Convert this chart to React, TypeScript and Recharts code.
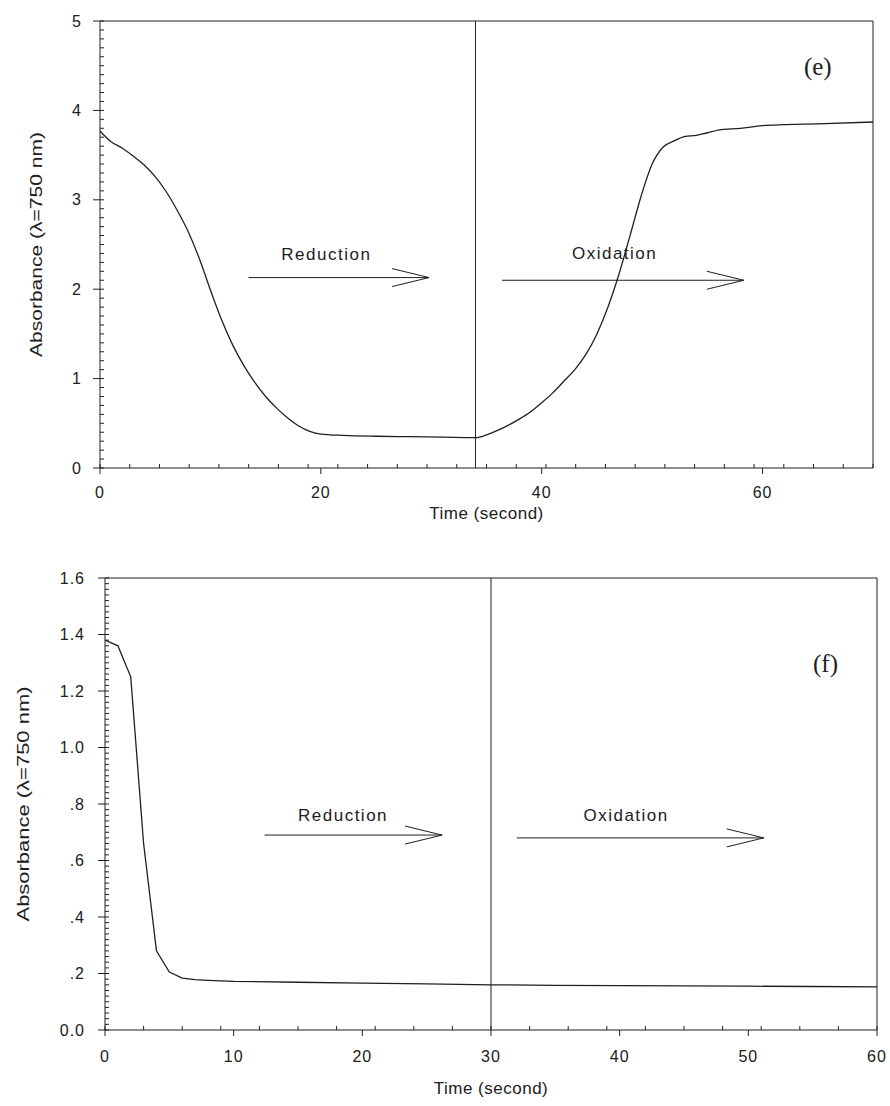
import {
  Label,
  Line,
  LineChart,
  ReferenceDot,
  ReferenceLine,
  XAxis,
  YAxis,
} from "recharts";

const INK = "#202020";
const SANS = "'Liberation Sans', Arial, Helvetica, sans-serif";
const SERIF = "'Liberation Serif', 'Times New Roman', serif";

// panel (e): reduction from 0 s, oxidation switched on at 34 s
const timeE = [
  0, 1, 2, 3, 4, 5, 6, 7, 8, 9, 10, 11, 12, 13, 14, 15, 16, 17, 18, 19, 20, 22, 25, 28, 31, 34,
  35, 36, 37, 38, 39, 40, 41, 42, 43, 44, 45, 46, 47, 48, 49, 50, 51, 52, 53, 54, 55, 56, 58, 60,
  62, 65, 70,
];
const absE = [
  3.77, 3.65, 3.58, 3.49, 3.39, 3.26, 3.09, 2.88, 2.64, 2.34, 1.99, 1.66, 1.38, 1.15, 0.96, 0.8,
  0.67, 0.56, 0.47, 0.41, 0.38, 0.365, 0.355, 0.35, 0.345, 0.34, 0.37, 0.42, 0.48, 0.55, 0.63,
  0.73, 0.84, 0.97, 1.1, 1.27, 1.5, 1.8, 2.17, 2.6, 3.04, 3.4, 3.59, 3.66, 3.71, 3.72, 3.75, 3.78,
  3.8, 3.83, 3.84, 3.85, 3.87,
];
const xTicksE = [0, 20, 40, 60];
const yTicksE = [0, 1, 2, 3, 4, 5];

// panel (f): oxidation switched on at 30 s
const timeF = [0, 1, 2, 3, 4, 5, 6, 7, 8, 9, 10, 15, 20, 25, 30, 35, 40, 45, 50, 55, 60];
const absF = [
  1.38, 1.36, 1.25, 0.66, 0.28, 0.205, 0.184, 0.178, 0.176, 0.174, 0.172, 0.169, 0.166, 0.163,
  0.16, 0.158, 0.157, 0.156, 0.155, 0.154, 0.153,
];
const xTicksF = [0, 10, 20, 30, 40, 50, 60];
const yTicksF = [0, 0.2, 0.4, 0.6, 0.8, 1.0, 1.2, 1.4, 1.6];
const yLabelsF = ["0.0", ".2", ".4", ".6", ".8", "1.0", "1.2", "1.4", "1.6"];

const steps = (max: number, step: number) =>
  Array.from({ length: Math.round(max / step) + 1 }, (_, i) => +(i * step).toFixed(3));

type Arrow = { from: number; to: number; y: number };
type Note = { x: number; y: number; text: string };

function ArrowShape(props: any) {
  const { x1, y1, x2, y2 } = props;
  return (
    <g>
      <line x1={x1} y1={y1} x2={x2} y2={y2} stroke={INK} strokeWidth={1} />
      <polyline
        points={`${x2 - 37},${y2 - 9} ${x2},${y2} ${x2 - 37},${y2 + 9}`}
        fill="none"
        stroke={INK}
        strokeWidth={1}
      />
    </g>
  );
}

const noLabel = () => <g />;

type PanelProps = {
  top: number;
  height: number;
  margin: { top: number; right: number; bottom: number; left: number };
  data: { t: number; a: number }[];
  curve: "monotone" | "linear";
  xDomain: [number, number];
  yDomain: [number, number];
  xTicks: number[];
  yTicks: number[];
  xMinor: number[];
  yMinor: number[];
  yFmt: (v: number, i: number) => string;
  yTickMargin: number;
  xTickMargin: number;
  yTitleX: number;
  yTitleLen: number;
  xTitleDy: number;
  divider: number;
  arrows: Arrow[];
  notes: Note[];
  tag: Note;
};

function Panel(p: PanelProps) {
  const tickFont = { fill: INK, fontSize: 16, fontFamily: SANS, letterSpacing: 1 };
  const tickLine = { stroke: INK, strokeWidth: 1 };
  return (
    <div style={{ position: "absolute", left: 0, top: p.top }}>
      <LineChart width={890} height={p.height} data={p.data} margin={p.margin}>
        <XAxis
          dataKey="t"
          type="number"
          domain={p.xDomain}
          ticks={p.xTicks}
          interval={0}
          allowDataOverflow
          height={40}
          tickSize={6}
          tickMargin={p.xTickMargin}
          stroke={INK}
          tickLine={tickLine}
          tick={tickFont}
        >
          <Label
            content={(lp: any) => {
              const vb = lp.viewBox || {};
              return (
                <text
                  x={vb.x + vb.width / 2}
                  y={vb.y + p.xTitleDy}
                  textAnchor="middle"
                  dominantBaseline="central"
                  fill={INK}
                  fontSize={17}
                  fontFamily={SANS}
                  letterSpacing={0.5}
                >
                  Time (second)
                </text>
              );
            }}
          />
        </XAxis>
        <XAxis
          xAxisId="minor"
          type="number"
          domain={p.xDomain}
          ticks={p.xMinor}
          interval={0}
          allowDataOverflow
          mirror
          tick={noLabel}
          tickSize={4}
          tickLine={tickLine}
          axisLine={false}
          stroke={INK}
        />
        <YAxis
          type="number"
          domain={p.yDomain}
          ticks={p.yTicks}
          interval={0}
          allowDataOverflow
          width={60}
          tickSize={7}
          tickMargin={p.yTickMargin}
          tickFormatter={p.yFmt}
          stroke={INK}
          tickLine={tickLine}
          tick={tickFont}
        >
          <Label
            content={(lp: any) => {
              const vb = lp.viewBox || {};
              const cy = vb.y + vb.height / 2;
              return (
                <text
                  x={p.yTitleX}
                  y={cy}
                  transform={`rotate(-90 ${p.yTitleX} ${cy})`}
                  textAnchor="middle"
                  dominantBaseline="central"
                  fill={INK}
                  fontSize={17}
                  fontFamily={SANS}
                  textLength={p.yTitleLen}
                  lengthAdjust="spacingAndGlyphs"
                >
                  Absorbance (λ=750 nm)
                </text>
              );
            }}
          />
        </YAxis>
        <YAxis
          yAxisId="minor"
          type="number"
          domain={p.yDomain}
          ticks={p.yMinor}
          interval={0}
          allowDataOverflow
          mirror
          tick={noLabel}
          tickSize={4}
          tickLine={tickLine}
          axisLine={false}
          stroke={INK}
        />
        <ReferenceLine y={p.yDomain[1]} stroke={INK} strokeWidth={1} />
        <ReferenceLine x={p.xDomain[1]} stroke={INK} strokeWidth={1} />
        <ReferenceLine x={p.divider} stroke={INK} strokeWidth={1} />
        {p.arrows.map((a, i) => (
          <ReferenceLine
            key={`arrow-${i}`}
            segment={[
              { x: a.from, y: a.y },
              { x: a.to, y: a.y },
            ]}
            shape={ArrowShape}
          />
        ))}
        {p.notes.map((n, i) => (
          <ReferenceDot
            key={`note-${i}`}
            x={n.x}
            y={n.y}
            r={0}
            fill="none"
            stroke="none"
            label={{
              value: n.text,
              position: "center",
              fill: INK,
              fontSize: 17,
              fontFamily: SANS,
              letterSpacing: 1.5,
            }}
          />
        ))}
        <ReferenceDot
          x={p.tag.x}
          y={p.tag.y}
          r={0}
          fill="none"
          stroke="none"
          label={{
            value: p.tag.text,
            position: "center",
            fill: INK,
            fontSize: 25,
            fontFamily: SERIF,
          }}
        />
        <Line
          type={p.curve}
          dataKey="a"
          stroke={INK}
          strokeWidth={1.3}
          dot={false}
          activeDot={false}
          isAnimationActive={false}
        />
      </LineChart>
    </div>
  );
}

const dataE = timeE.map((t, i) => ({ t, a: absE[i] }));
const dataF = timeF.map((t, i) => ({ t, a: absF[i] }));

export default function App() {
  return (
    <div style={{ position: "absolute", left: 0, top: 0, width: 890, height: 1106, background: "#fff" }}>
      <Panel
        top={0}
        height={530}
        margin={{ top: 21, right: 17, bottom: 22, left: 40 }}
        data={dataE}
        curve="monotone"
        xDomain={[0, 70]}
        yDomain={[0, 5]}
        xTicks={xTicksE}
        yTicks={yTicksE}
        xMinor={steps(70, 2)}
        yMinor={steps(5, 0.1)}
        yFmt={(v) => String(v)}
        yTickMargin={11}
        xTickMargin={13}
        yTitleX={36}
        yTitleLen={225}
        xTitleDy={45}
        divider={34}
        arrows={[
          { from: 13.45, to: 29.8, y: 2.13 },
          { from: 36.4, to: 58.3, y: 2.1 },
        ]}
        notes={[
          { x: 20.5, y: 2.39, text: "Reduction" },
          { x: 46.6, y: 2.4, text: "Oxidation" },
        ]}
        tag={{ x: 65, y: 4.5, text: "(e)" }}
      />
      <Panel
        top={540}
        height={566}
        margin={{ top: 38, right: 13, bottom: 36, left: 45 }}
        data={dataF}
        curve="linear"
        xDomain={[0, 60]}
        yDomain={[0, 1.6]}
        xTicks={xTicksF}
        yTicks={yTicksF}
        xMinor={steps(60, 1)}
        yMinor={steps(1.6, 0.02)}
        yFmt={(_, i) => yLabelsF[i]}
        yTickMargin={13}
        xTickMargin={15}
        yTitleX={23}
        yTitleLen={235}
        xTitleDy={58}
        divider={30}
        arrows={[
          { from: 12.4, to: 26.2, y: 0.69 },
          { from: 32, to: 51.2, y: 0.68 },
        ]}
        notes={[
          { x: 18.5, y: 0.76, text: "Reduction" },
          { x: 40.5, y: 0.76, text: "Oxidation" },
        ]}
        tag={{ x: 56, y: 1.3, text: "(f)" }}
      />
    </div>
  );
}
